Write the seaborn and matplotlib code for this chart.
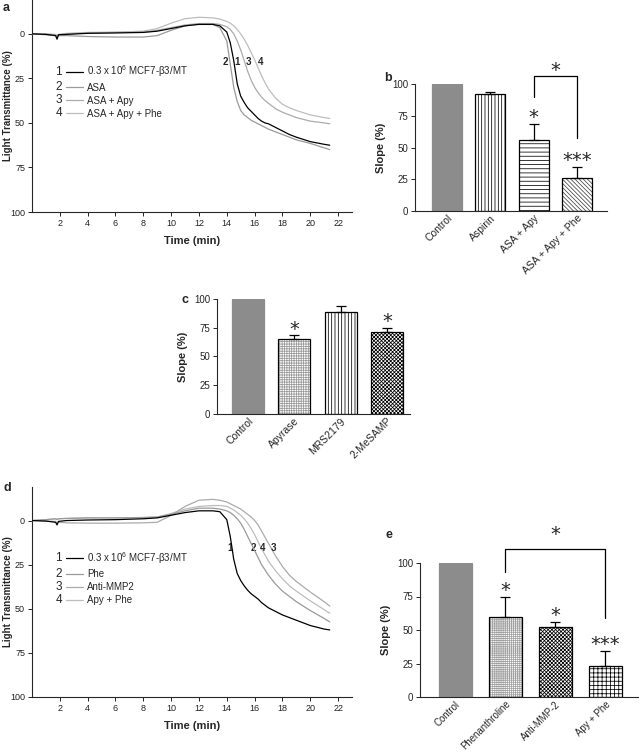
import numpy as np
import pandas as pd
import matplotlib
matplotlib.use("Agg")
import matplotlib.pyplot as plt
import seaborn as sns

# ---------------- data ----------------
t = [0, 1, 1.7, 1.8, 1.9, 2.5, 4, 6, 8, 9, 10, 11, 12, 13, 13.5, 14, 14.25, 14.5, 14.75, 15,
     15.25, 15.5, 15.75, 16, 16.25, 16.5, 16.75, 17, 17.5, 18, 18.5, 19, 20, 21, 21.4]

a1 = [0, 0.3, 1, 3, 0.5, 0.3, -0.3, -0.5, -0.8, -1.5, -3, -4.5, -5.3, -5.3, -4.5,
      -1, 5, 15, 28, 35, 38.5, 41.5, 43.5, 45.5, 47.5, 49, 50, 50.5, 52.5, 54.5,
      56.5, 58, 60.5, 62, 62.5]
a2 = [0, 0.5, 1, 2.5, 1, 1, 1.5, 1.8, 1.8, 1, -2, -4.5, -5.5, -5.3, -3.5,
      4, 17, 30, 38, 43, 45.5, 47, 48.5, 49.5, 50.5, 51.5, 52.5, 53.5, 55, 56.5,
      58, 59.5, 61.5, 64, 65]
a3 = [0, 0.2, 0.5, 1.5, 0.5, 0, -0.5, -0.8, -1, -2, -3.5, -5, -5.8, -5.8, -5.3,
      -4, -2.5, 0, 4, 9, 15, 21, 26, 30, 33, 35.5, 37.5, 39, 42, 44,
      45.5, 47, 49, 50, 50.5]
a4 = [0, 0, 0.3, 1, 0.3, -0.3, -0.8, -1, -1.5, -3, -6, -8.5, -9.3, -9, -8.3,
      -7, -6, -4.5, -2.5, 0, 3, 6.5, 10.5, 14.5, 19, 23.5, 27.5, 31, 36, 39.5,
      41.5, 43, 45.5, 47, 47.5]

d1 = [0, 0.3, 1, 2.5, 0.5, 0, -0.3, -0.5, -1, -1.5, -3, -4.5, -5.5, -5.5, -5,
      -0.5, 9, 22, 30, 34, 37, 39.5, 41.5, 43, 44.5, 46.5, 48, 49.5, 51.5, 53.5,
      55, 56.5, 59.5, 61.5, 62]
d2 = [0, -0.5, -1, -0.5, -1, -1.2, -1.5, -1.5, -1.7, -2, -3.5, -5.5, -7, -7, -6.5,
      -5.5, -4.5, -3, -1, 1.5, 5, 9, 13, 17, 21, 25, 28, 31, 36, 40,
      43, 46, 51, 55.5, 57.5]
d3 = [0, 0.3, 0.5, 1.5, 1, 1.3, 1.5, 1.5, 1.3, 1, -3, -8, -11.5, -12, -11.5,
      -10.5, -9.5, -8.5, -7.5, -6.5, -5, -3.5, -2, 0, 2.5, 6, 9.5, 13, 20, 26,
      31, 34.5, 40.5, 46, 48.5]
d4 = [0, -0.5, -1, -0.5, -1, -1.2, -1.5, -1.5, -1.7, -2, -4, -6.5, -8, -8.5, -8.5,
      -8, -7, -6, -4.5, -3, -1, 1.5, 4.5, 8, 12, 16, 19.5, 23, 28.5, 33,
      37, 40, 45.5, 50.5, 52.5]

a_labels = ["0.3 x 10$^{6}$ MCF7-β3/MT", "ASA", "ASA + Apy", "ASA + Apy + Phe"]
d_labels = ["0.3 x 10$^{6}$ MCF7-β3/MT", "Phe", "Anti-MMP2", "Apy + Phe"]
a_curve_tags = [("2", 13.9), ("1", 14.75), ("3", 15.55), ("4", 16.4)]
d_curve_tags = [("1", 14.2), ("2", 15.9), ("4", 16.6), ("3", 17.35)]

b_cats = ["Control", "Aspirin", "ASA + Apy", "ASA + Apy + Phe"]
b_vals = [100, 92, 56, 26]
b_errs = [0, 2, 12.5, 9]
b_stars = ["", "", "*", "***"]

c_cats = ["Control", "Apyrase", "MRS2179", "2-MeSAMP"]
c_vals = [100, 65, 89, 71]
c_errs = [0, 3.7, 5, 4]
c_stars = ["", "*", "", "*"]

e_cats = ["Control", "Phenanthroline", "Anti-MMP-2", "Apy + Phe"]
e_vals = [100, 60, 52, 23]
e_errs = [0, 14.4, 4, 11]
e_stars = ["", "*", "*", "***"]

# ---------------- style ----------------
sns.set_style("ticks")
plt.rcParams["font.family"] = ["Liberation Sans", "DejaVu Sans"]
plt.rcParams["mathtext.default"] = "regular"
plt.rcParams["hatch.linewidth"] = 0.55
plt.rcParams["axes.linewidth"] = 0.8

CTRL = "#8c8c8c"
curve_cols = ["black", "#9a9a9a", "#ababab", "#bdbdbd"]

fig = plt.figure(figsize=(6.4, 7.52), dpi=100)
W, H = 640.0, 752.0


def px_axes(l, top, r, bottom):
    return fig.add_axes([l / W, 1 - bottom / H, (r - l) / W, (bottom - top) / H])


legends = []


def trace_panel(ax, series, labels, tags):
    for i, (y, lab) in enumerate(zip(series, labels)):
        df = pd.DataFrame({"t": t, "y": y})
        sns.lineplot(data=df, x="t", y="y", ax=ax, color=curve_cols[i],
                     lw=1.5 if i == 0 else 1.0, label=lab, zorder=5 - i)
    ax.set_xlim(0, 23)
    ax.set_ylim(100, -19)
    ax.set_xticks(range(2, 23, 2))
    ax.set_yticks([0, 25, 50, 75, 100])
    ax.tick_params(labelsize=6.5, length=3, width=0.7, pad=2, colors="#222222")
    ax.set_xlabel("Time (min)", fontsize=8, fontweight="bold", labelpad=6)
    ax.set_ylabel("Light Transmittance (%)", fontsize=7, fontweight="bold")
    ax.yaxis.set_label_coords(-0.058, 0.5)
    sns.despine(ax=ax)
    handles, labs = ax.get_legend_handles_labels()
    for h in handles:
        h.set_linewidth(0.9)
    leg = ax.legend(handles, labs, loc="upper left", bbox_to_anchor=(0.105, 0.70),
                    frameon=False, fontsize=7, handlelength=1.8, handletextpad=0.4,
                    labelspacing=0.32, borderaxespad=0, borderpad=0)
    legends.append((ax, leg))
    for s, x in tags:
        ax.text(x, 15.6, s, fontsize=7, fontweight="bold", ha="center", va="center")


def bar_panel(ax, cats, vals, errs, stars, hatches, hcols, xlim, width, tfs):
    df = pd.DataFrame({"cat": cats, "val": vals})
    sns.barplot(data=df, x="cat", y="val", ax=ax, color="white", errorbar=None,
                width=width, saturation=1, linewidth=0)
    for p, h, hc in zip(ax.patches, hatches, hcols):
        if h is None:
            p.set_facecolor(CTRL)
            p.set_edgecolor(CTRL)
        else:
            p.set_facecolor("white")
            p.set_hatch(h)
            p.set_edgecolor(hc)
            p.set_linewidth(0)
    n0 = len(ax.patches)
    sns.barplot(data=df, x="cat", y="val", ax=ax, fill=False, color="black",
                errorbar=None, width=width, linewidth=0.9)
    ax.patches[n0].set_edgecolor(CTRL)
    v = np.array(vals, float)
    e = np.array(errs, float)
    idx = np.where(e > 0)[0]
    ax.errorbar(idx, v[idx], yerr=[np.zeros(len(idx)), e[idx]], fmt="none",
                ecolor="black", elinewidth=0.9, capsize=3.5, capthick=0.9, zorder=6)
    for i, s in enumerate(stars):
        if s:
            ax.text(i, v[i] + e[i] + 5, s, fontsize=14, ha="center", va="center",
                    family="DejaVu Sans", zorder=7)
    ax.set_xlim(*xlim)
    ax.set_ylim(0, 100)
    ax.set_yticks([0, 25, 50, 75, 100])
    ax.set_xlabel("")
    ax.set_ylabel("Slope (%)", fontsize=8, fontweight="bold", labelpad=4)
    ax.tick_params(axis="y", labelsize=7, length=3, width=0.7, pad=2)
    ax.tick_params(axis="x", length=0, pad=1.5)
    ax.set_xticks(range(len(cats)))
    ax.set_xticklabels(cats, rotation=45, ha="right", rotation_mode="anchor", fontsize=tfs)
    sns.despine(ax=ax)


# ---------- panel a ----------
axA = px_axes(32, 0, 352, 212)
trace_panel(axA, [a1, a2, a3, a4], a_labels, a_curve_tags)

# ---------- panel d ----------
axD = px_axes(32, 487, 352, 697)
trace_panel(axD, [d1, d2, d3, d4], d_labels, d_curve_tags)

# ---------- panel b ----------
axB = px_axes(415, 84, 607, 211)
bar_panel(axB, b_cats, b_vals, b_errs, b_stars,
          [None, "|||||", "----", "\\\\\\\\\\\\\\\\"], ["k", "k", "k", "#444444"],
          (-0.74, 3.69), 0.69, 7.5)
axB.plot([2, 2, 3, 3], [90, 106, 106, 57.5], color="black", lw=0.9, clip_on=False)
axB.text(2.5, 111, "*", fontsize=14, ha="center", va="center", family="DejaVu Sans")

# ---------- panel c ----------
axC = px_axes(217, 299, 410, 414)
bar_panel(axC, c_cats, c_vals, c_errs, c_stars,
          [None, "+++++++", "|||||", "xxxxxxxxx"], ["k", "#9a9a9a", "k", "k"],
          (-0.67, 3.5), 0.69, 7.5)

# ---------- panel e ----------
axE = px_axes(420, 563, 638, 697)
bar_panel(axE, e_cats, e_vals, e_errs, e_stars,
          [None, "++++++++", "xxxxxxxxx", "++++"], ["k", "#a0a0a0", "k", "k"],
          (-0.7, 3.66), 0.66, 6.9)
axE.plot([1, 1, 3, 3], [93, 110.5, 110.5, 59], color="black", lw=0.9, clip_on=False)
axE.text(2, 121, "*", fontsize=14, ha="center", va="center", family="DejaVu Sans")

# ---------- panel letters ----------
for s, x, y in [("a", 3, 8), ("b", 384, 78), ("c", 182, 300), ("d", 3, 488), ("e", 385, 535)]:
    fig.text(x / W, 1 - y / H, s, fontsize=9, fontweight="bold", ha="left", va="center")

# numbers in front of legend entries, aligned with legend handle lines
fig.canvas.draw()
for ax, leg in legends:
    inv = ax.transAxes.inverted()
    for k, ln in enumerate(leg.get_lines()):
        bb = ln.get_window_extent(fig.canvas.get_renderer())
        xa, ya = inv.transform((bb.x0, (bb.y0 + bb.y1) / 2))
        ax.text(xa - 0.022, ya, str(k + 1), transform=ax.transAxes,
                fontsize=8.5, ha="center", va="center")

fig.savefig("out.png", dpi=100)
